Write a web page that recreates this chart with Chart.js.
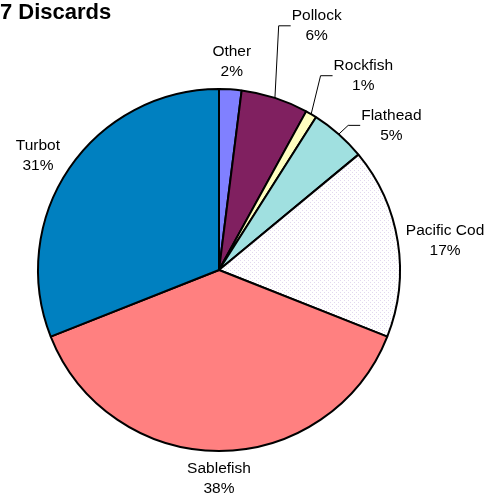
<!DOCTYPE html>
<html>
<head>
<meta charset="utf-8">
<script src="https://cdn.jsdelivr.net/npm/chart.js@4/dist/chart.umd.min.js"></script>
<style>
  html, body { margin: 0; padding: 0; background: #fff; }
  #wrap { position: relative; width: 499px; height: 504px; }
</style>
</head>
<body>
<div id="wrap"><canvas id="pieChart" width="499" height="504"></canvas></div>
<script>
// species and share of discards (percent), clockwise from 12 o'clock
const species = ["Other", "Pollock", "Rockfish", "Flathead", "Pacific Cod", "Sablefish", "Turbot"];
const shares = [2, 6, 1, 5, 17, 38, 31];
const titleText = "7 Discards";

const sliceColors = ["#8080ff", "#802060", "#ffffc0", "#a0e0e0", null, "#ff8080", "#0080c0"];
// label placement: extra distance past the rim, angle nudge (deg), leader line or not
const labelPlace = [
  { gap: 28, nudge: -0.1, leader: false },
  { gap: 82, nudge: 3.8, leader: true },
  { gap: 61, nudge: 6.0, leader: true },
  { gap: 44, nudge: 8.6, leader: true },
  { gap: 47, nudge: 1.5, leader: false },
  { gap: 28, nudge: 0, leader: false },
  { gap: 33, nudge: -2, leader: false }
];

(() => {
  const ctx = document.getElementById('pieChart').getContext('2d');

  // white fill with a faint lavender dot pattern (Pacific Cod)
  const dotCanvas = document.createElement('canvas');
  dotCanvas.width = 4; dotCanvas.height = 4;
  const dc = dotCanvas.getContext('2d');
  dc.fillStyle = '#ffffff';
  dc.fillRect(0, 0, 4, 4);
  dc.fillStyle = '#e2d8ee';
  dc.fillRect(0, 0, 1, 1);
  dc.fillRect(2, 2, 1, 1);
  const dotPattern = ctx.createPattern(dotCanvas, 'repeat');

  const fills = sliceColors.map(c => c || dotPattern);
  const font = '15.5px "Liberation Sans", Arial, sans-serif';

  const labelPlugin = {
    id: 'sliceLabels',
    afterDraw(chart) {
      const c = chart.ctx;
      const meta = chart.getDatasetMeta(0);
      const total = shares.reduce((a, b) => a + b, 0);
      c.save();
      c.font = font;
      c.fillStyle = '#000';
      c.textAlign = 'center';
      c.textBaseline = 'middle';
      meta.data.forEach((arc, i) => {
        const p = arc.getProps(['x', 'y', 'startAngle', 'endAngle', 'outerRadius'], true);
        const mid = (p.startAngle + p.endAngle) / 2;
        const pl = labelPlace[i];
        const a = mid + pl.nudge * Math.PI / 180;
        const d = p.outerRadius + pl.gap;
        const lx = p.x + Math.cos(a) * d;
        const ly = p.y + Math.sin(a) * d;
        const pct = Math.round(shares[i] / total * 100) + '%';
        const w = Math.max(c.measureText(species[i]).width, c.measureText(pct).width);
        if (pl.leader) {
          const left = lx - w / 2 - 1;
          c.strokeStyle = '#000';
          c.lineWidth = 1;
          c.beginPath();
          c.moveTo(p.x + Math.cos(mid) * p.outerRadius, p.y + Math.sin(mid) * p.outerRadius);
          c.lineTo(left - 12, ly);
          c.lineTo(left, ly);
          c.stroke();
        }
        c.fillText(species[i], lx, ly - 10);
        c.fillText(pct, lx, ly + 10);
      });
      // title
      c.font = 'bold 22px "Liberation Sans", Arial, sans-serif';
      c.textAlign = 'left';
      c.textBaseline = 'alphabetic';
      c.fillText(titleText, 0, 19);
      c.restore();
    }
  };

  new Chart(ctx, {
    type: 'pie',
    data: {
      labels: species,
      datasets: [{
        data: shares,
        backgroundColor: fills,
        borderColor: '#000',
        borderWidth: 2,
        borderAlign: 'center'
      }]
    },
    options: {
      responsive: false,
      animation: false,
      events: [],
      layout: { padding: { left: 37, right: 98, top: 88, bottom: 52 } },
      plugins: {
        legend: { display: false },
        tooltip: { enabled: false }
      }
    },
    plugins: [labelPlugin]
  });
})();
</script>
</body>
</html>
